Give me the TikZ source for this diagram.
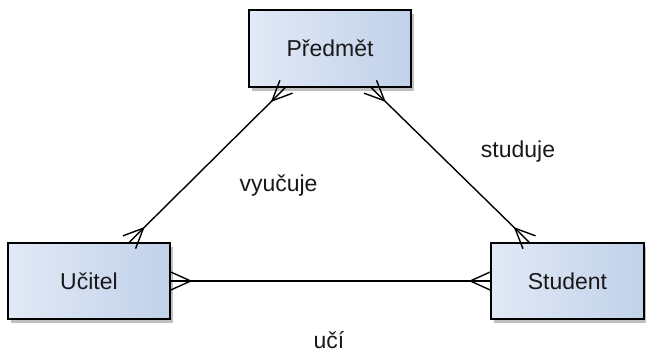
\documentclass[tikz,border=0pt]{standalone}
\usepackage{fontspec}
\setmainfont{Liberation Sans}
\usetikzlibrary{calc,shadows}
\definecolor{boxlight}{RGB}{226,233,246}
\definecolor{boxdark}{RGB}{192,209,233}
\definecolor{txt}{RGB}{25,25,25}
\newcommand{\crowfoot}[2]{%
  \draw[rel] ($(#1)!20pt!(#2)$) -- ($(#1)!9pt!90:(#2)$)
             ($(#1)!20pt!(#2)$) -- ($(#1)!9pt!-90:(#2)$);}
\begin{document}
\begin{tikzpicture}[x=1pt,y=-1pt,
  ent/.style={draw=black, line width=1.5pt, left color=boxlight, right color=boxdark,
    drop shadow={shadow xshift=3pt, shadow yshift=-4pt, opacity=0.25, fill=black},
    text=txt, font=\fontsize{23}{27}\selectfont, inner sep=0pt},
  rel/.style={draw=black, line width=1.4pt},
  lbl/.style={text=txt, font=\fontsize{23}{27}\selectfont, inner sep=0pt}]
\useasboundingbox (0,0) rectangle (646,352);
\node[ent, minimum width=162pt, minimum height=77pt] (pred) at (330,48.5) {Předmět};
\node[ent, minimum width=162pt, minimum height=76pt] (uc) at (89,281) {Učitel};
\node[ent, minimum width=153pt, minimum height=76pt] (st) at (567.5,281) {Student};
\coordinate (p1) at ($(pred.south west)+(38,-1)$);
\coordinate (u1) at ($(uc.north west)+(122,0)$);
\coordinate (p2) at ($(pred.south west)+(122,-1)$);
\coordinate (s1) at ($(st.north west)+(39,0)$);
\draw[rel] (p1) -- (u1);
\draw[rel] (p2) -- (s1);
\draw[rel] (uc.east) -- (st.west);
\crowfoot{p1}{u1}
\crowfoot{u1}{p1}
\crowfoot{p2}{s1}
\crowfoot{s1}{p2}
\crowfoot{uc.east}{st.west}
\crowfoot{st.west}{uc.east}
\node[lbl] (l1) at (278.5,186) {vyučuje};
\node[lbl] (l2) at (518,152) {studuje};
\node[lbl] (l3) at (329,340) {učí};
\end{tikzpicture}
\end{document}
